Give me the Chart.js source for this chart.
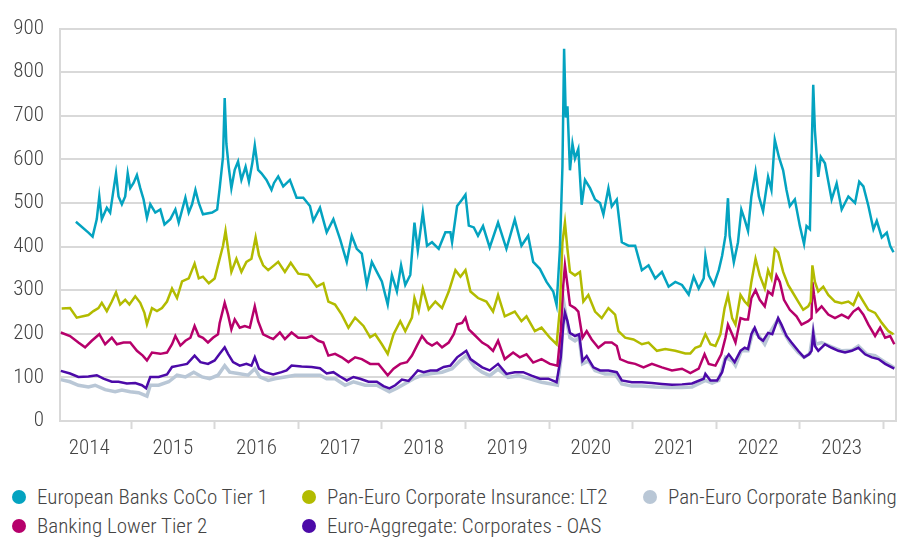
<!DOCTYPE html>
<html>
<head>
<meta charset="utf-8">
<script src="https://cdn.jsdelivr.net/npm/chart.js@4.4.1/dist/chart.umd.min.js"></script>
<style>
  html, body { margin: 0; padding: 0; background: #fff; }
  body { width: 898px; height: 537px; position: relative; overflow: hidden;
         font-family: "Roboto Condensed", Roboto, sans-serif; }
  #wrap { position: absolute; left: 0; top: 0; width: 898px; height: 470px; }
  #legend { position: absolute; left: 12px; top: 484px; display: grid;
            grid-template-columns: 290px 341px auto; row-gap: 3px; }
  .item { display: flex; align-items: center; height: 26px; font-size: 21px; font-weight: 300;
          color: #444; white-space: nowrap; }
  .dot { width: 14px; height: 14px; border-radius: 50%; margin-right: 11px; flex: none; }
</style>
</head>
<body>
<div id="wrap"><canvas id="chart"></canvas></div>
<div id="legend"></div>
<script>
// --- data (decimal years, spread in bp) ---
const cocoDates = [2014.34,2014.49,2014.54,2014.59,2014.62,2014.65,2014.71,2014.75,2014.79,2014.82,2014.85,2014.89,2014.93,2014.96,2014.99,
  2015.03,2015.07,2015.11,2015.15,2015.19,2015.23,2015.29,2015.35,2015.40,2015.47,2015.53,2015.57,2015.65,2015.69,2015.73,2015.77,2015.81,2015.86,2015.97,
  2016.03,2016.06,2016.10,2016.12,2016.14,2016.17,2016.20,2016.24,2016.28,2016.32,2016.37,2016.41,2016.45,2016.48,2016.52,2016.56,2016.62,2016.68,2016.71,2016.76,2016.82,2016.90,2016.98,
  2017.06,2017.14,2017.18,2017.26,2017.34,2017.42,2017.50,2017.58,2017.64,2017.70,2017.76,2017.82,2017.88,2017.94,
  2018.00,2018.07,2018.12,2018.18,2018.23,2018.28,2018.34,2018.39,2018.43,2018.49,2018.54,2018.60,2018.68,2018.76,2018.82,2018.84,2018.90,2018.96,
  2019.00,2019.04,2019.10,2019.15,2019.21,2019.29,2019.39,2019.49,2019.59,2019.67,2019.75,2019.81,2019.89,2019.97,
  2020.05,2020.09,2020.13,2020.16,2020.18,2020.20,2020.22,2020.25,2020.28,2020.31,2020.35,2020.39,2020.43,2020.49,2020.55,2020.61,2020.65,2020.71,2020.75,2020.81,2020.87,2020.95,
  2021.03,2021.11,2021.19,2021.27,2021.35,2021.43,2021.51,2021.59,2021.67,2021.73,2021.79,2021.85,2021.87,2021.91,2021.97,
  2022.03,2022.07,2022.11,2022.14,2022.16,2022.21,2022.26,2022.30,2022.34,2022.38,2022.42,2022.47,2022.51,2022.56,2022.62,2022.66,2022.70,2022.75,2022.80,2022.84,2022.88,2022.94,
  2023.00,2023.05,2023.08,2023.12,2023.14,2023.16,2023.18,2023.22,2023.25,2023.30,2023.38,2023.44,2023.50,2023.58,2023.66,2023.71,2023.76,2023.82,2023.88,2023.92,2023.98,
  2024.04,2024.08,2024.12];
const cocoValues = [457,432,423,463,515,463,489,478,530,568,515,497,515,568,534,
  546,564,534,508,466,497,478,485,451,463,485,455,512,478,497,530,500,474,478,
  485,534,606,741,636,580,534,576,595,553,583,549,591,632,576,568,553,530,546,561,538,553,512,
  512,493,459,489,433,463,417,365,425,395,384,312,365,342,
  320,267,335,297,357,312,335,455,391,478,402,410,395,433,433,410,493,508,
  519,448,444,425,447,398,455,395,462,402,425,365,349,319,
  297,266,395,583,854,696,722,575,636,602,624,496,553,534,508,500,474,534,492,508,410,402,
  402,346,357,327,342,308,319,312,290,331,304,327,379,334,312,
  346,379,425,511,425,364,410,485,462,436,515,572,515,481,560,530,645,605,575,530,493,508,
  447,406,447,440,613,771,666,560,606,591,508,545,485,515,500,549,538,493,440,459,421,
  432,402,387];

const lt2Dates = [2014.17,2014.27,2014.35,2014.49,2014.55,2014.61,2014.65,2014.71,2014.77,2014.82,2014.87,2014.93,2014.98,
  2015.05,2015.11,2015.16,2015.19,2015.25,2015.31,2015.37,2015.43,2015.49,2015.55,2015.61,2015.69,2015.76,2015.81,2015.86,2015.93,
  2016.00,2016.06,2016.10,2016.13,2016.16,2016.20,2016.26,2016.32,2016.38,2016.44,2016.49,2016.53,2016.58,2016.64,2016.71,2016.76,2016.84,2016.91,
  2017.00,2017.12,2017.22,2017.30,2017.36,2017.44,2017.52,2017.60,2017.68,2017.78,2017.86,2017.92,
  2018.00,2018.07,2018.14,2018.22,2018.28,2018.36,2018.39,2018.44,2018.49,2018.56,2018.64,2018.72,2018.80,2018.88,2018.94,
  2019.00,2019.06,2019.15,2019.25,2019.33,2019.39,2019.47,2019.59,2019.67,2019.73,2019.83,2019.91,
  2020.01,2020.09,2020.13,2020.16,2020.19,2020.22,2020.25,2020.31,2020.37,2020.41,2020.47,2020.55,2020.63,2020.71,2020.79,2020.83,2020.91,
  2021.01,2021.11,2021.19,2021.29,2021.39,2021.51,2021.63,2021.69,2021.75,2021.81,2021.87,2021.93,2021.99,
  2022.05,2022.10,2022.14,2022.19,2022.23,2022.29,2022.34,2022.38,2022.42,2022.47,2022.52,2022.58,2022.62,2022.66,2022.70,2022.74,2022.80,2022.86,2022.92,2022.98,
  2023.04,2023.10,2023.13,2023.15,2023.18,2023.22,2023.28,2023.34,2023.42,2023.50,2023.58,2023.64,2023.70,2023.76,2023.82,2023.90,2023.98,
  2024.06,2024.12];
const lt2Values = [258,259,237,243,252,259,271,252,274,295,267,278,267,
  286,271,248,222,259,252,259,274,304,282,320,327,361,327,331,316,
  327,372,402,436,395,342,372,342,365,372,421,380,357,346,357,365,342,363,
  338,335,308,316,274,267,244,214,237,218,192,199,
  176,154,199,229,206,237,282,252,304,256,274,259,297,346,331,
  346,297,282,274,251,289,240,251,229,240,206,214,
  191,176,259,410,455,394,342,334,342,274,289,251,236,259,244,206,191,
  187,176,180,161,165,161,155,155,168,172,199,176,172,
  199,259,289,236,221,289,274,266,319,372,334,304,346,327,395,387,342,312,293,274,
  255,263,274,357,319,297,308,289,274,270,274,266,293,274,255,248,225,
  206,199];

const bankingDates = [2014.16,2014.27,2014.37,2014.49,2014.57,2014.69,2014.81,2014.89,2014.99,
  2015.09,2015.19,2015.23,2015.33,2015.45,2015.55,2015.65,2015.75,2015.85,2015.94,
  2016.04,2016.12,2016.18,2016.28,2016.40,2016.48,2016.54,2016.64,2016.72,2016.84,2016.96,
  2017.12,2017.26,2017.34,2017.44,2017.56,2017.66,2017.80,2017.94,
  2018.09,2018.18,2018.28,2018.38,2018.48,2018.60,2018.72,2018.84,2018.94,
  2019.01,2019.11,2019.20,2019.29,2019.39,2019.51,2019.63,2019.77,2019.91,
  2020.03,2020.10,2020.14,2020.18,2020.22,2020.25,2020.31,2020.36,2020.40,2020.47,2020.55,2020.67,2020.79,2020.87,2020.99,
  2021.11,2021.27,2021.43,2021.59,2021.71,2021.87,2021.95,
  2022.03,2022.11,2022.19,2022.23,2022.30,2022.38,2022.44,2022.51,2022.58,2022.64,2022.74,2022.80,2022.88,2022.98,
  2023.05,2023.12,2023.16,2023.19,2023.26,2023.38,2023.50,2023.62,2023.70,2023.80,2023.90,
  2024.02,2024.13];
const bankingValues = [95,90,82,78,82,72,67,71,67,
  65,57,82,82,90,105,101,112,101,97,
  105,127,112,109,105,120,101,93,97,101,105,
  105,105,97,97,82,90,82,82,
  67,75,86,97,105,109,112,120,139,
  150,124,112,104,119,100,104,97,89,
  85,82,138,267,221,191,184,191,131,138,116,108,108,85,80,
  80,78,77,77,78,93,87,
  93,146,138,127,161,161,206,195,176,202,233,206,180,157,
  146,155,206,176,180,170,161,162,172,153,150,
  135,122];

const lowerT2Dates = [2014.16,2014.27,2014.37,2014.45,2014.53,2014.62,2014.69,2014.77,2014.83,2014.91,2014.99,
  2015.07,2015.14,2015.19,2015.25,2015.35,2015.43,2015.49,2015.53,2015.59,2015.65,2015.71,2015.76,2015.81,2015.86,2015.92,2015.98,
  2016.04,2016.06,2016.12,2016.16,2016.20,2016.24,2016.30,2016.36,2016.42,2016.48,2016.52,2016.58,2016.66,2016.70,2016.78,2016.84,2016.92,
  2017.00,2017.10,2017.16,2017.24,2017.30,2017.36,2017.44,2017.52,2017.60,2017.68,2017.76,2017.86,2017.96,
  2018.07,2018.14,2018.22,2018.30,2018.36,2018.42,2018.48,2018.54,2018.60,2018.66,2018.72,2018.80,2018.86,2018.90,2018.96,
  2019.00,2019.04,2019.10,2019.20,2019.27,2019.33,2019.39,2019.47,2019.57,2019.65,2019.73,2019.81,2019.91,
  2020.01,2020.10,2020.14,2020.17,2020.19,2020.22,2020.25,2020.31,2020.35,2020.40,2020.45,2020.51,2020.59,2020.67,2020.75,2020.81,2020.85,2020.95,
  2021.03,2021.13,2021.23,2021.35,2021.47,2021.59,2021.69,2021.79,2021.86,2021.91,2021.99,
  2022.06,2022.11,2022.14,2022.19,2022.23,2022.29,2022.34,2022.38,2022.42,2022.47,2022.52,2022.58,2022.62,2022.67,2022.72,2022.76,2022.81,2022.88,2022.96,
  2023.02,2023.10,2023.14,2023.15,2023.17,2023.20,2023.26,2023.34,2023.42,2023.50,2023.58,2023.64,2023.70,2023.76,2023.82,2023.90,2023.96,
  2024.02,2024.08,2024.13];
const lowerT2Values = [203,195,180,169,184,199,176,191,176,180,180,
  161,150,139,157,154,157,176,195,173,184,191,218,195,191,180,191,
  199,225,271,244,210,233,214,218,214,263,229,199,191,188,203,188,203,
  191,191,195,184,180,150,154,146,135,146,142,131,131,
  105,120,131,135,150,173,195,180,173,180,169,180,199,222,225,
  237,210,199,180,172,161,184,142,157,146,153,134,142,
  131,127,206,312,357,312,266,259,251,191,206,187,168,180,180,172,142,134,
  131,123,131,123,116,120,110,120,153,131,127,
  153,191,221,199,180,236,233,233,282,300,278,263,297,289,334,319,278,255,240,
  221,229,236,319,289,251,263,244,236,244,236,251,259,244,221,195,214,
  191,195,176];

const euroAggDates = [2014.16,2014.27,2014.37,2014.49,2014.59,2014.67,2014.77,2014.85,2014.95,
  2015.05,2015.13,2015.18,2015.23,2015.33,2015.43,2015.49,2015.57,2015.67,2015.76,2015.83,2015.92,
  2016.00,2016.06,2016.12,2016.16,2016.22,2016.30,2016.38,2016.44,2016.48,2016.53,2016.60,2016.70,2016.80,2016.86,2016.92,
  2017.04,2017.16,2017.26,2017.34,2017.42,2017.50,2017.58,2017.66,2017.74,2017.84,2017.94,
  2018.02,2018.09,2018.16,2018.24,2018.32,2018.38,2018.43,2018.50,2018.58,2018.66,2018.74,2018.82,2018.90,2018.96,
  2019.01,2019.06,2019.14,2019.20,2019.29,2019.39,2019.49,2019.59,2019.69,2019.79,2019.89,2019.99,
  2020.09,2020.14,2020.17,2020.19,2020.22,2020.25,2020.31,2020.36,2020.40,2020.45,2020.53,2020.61,2020.71,2020.81,2020.87,2020.99,
  2021.11,2021.23,2021.35,2021.47,2021.59,2021.71,2021.85,2021.87,2021.93,
  2022.01,2022.07,2022.11,2022.15,2022.22,2022.29,2022.34,2022.38,2022.42,2022.46,2022.51,2022.56,2022.62,2022.67,2022.74,2022.78,2022.84,2022.90,2022.98,
  2023.05,2023.11,2023.14,2023.16,2023.18,2023.22,2023.30,2023.38,2023.46,2023.54,2023.62,2023.70,2023.78,2023.86,2023.94,
  2024.02,2024.13];
const euroAggValues = [115,109,101,102,105,97,90,90,86,
  87,82,75,101,101,107,124,127,131,150,135,131,
  139,154,169,154,135,127,131,127,146,120,112,107,112,116,127,
  125,124,121,109,112,102,93,101,97,90,90,
  80,75,82,95,92,105,116,112,116,116,124,127,146,154,
  161,142,131,123,116,131,108,112,112,104,97,97,
  89,146,221,248,229,202,195,199,138,149,123,116,116,112,93,89,
  89,87,85,83,84,86,97,108,93,
  93,112,142,153,135,161,168,165,199,214,191,184,202,199,236,221,195,180,161,
  146,153,161,202,172,161,176,168,161,157,161,168,153,146,142,
  131,120];

const seriesNames = ["European Banks CoCo Tier 1", "Pan-Euro Corporate Insurance: LT2", "Pan-Euro Corporate Banking",
  "Banking Lower Tier 2", "Euro-Aggregate: Corporates - OAS"];
const seriesColors = ["#04a3c0", "#b2bb00", "#b9c7d6", "#b6006b", "#4c0aa8"];

const yTicks = [0, 100, 200, 300, 400, 500, 600, 700, 800, 900];
const yearLabels = [2014, 2015, 2016, 2017, 2018, 2019, 2020, 2021, 2022, 2023];
const X_MIN = 2014.15, X_MAX = 2024.15;

// --- helpers ---
const FONT = '"Roboto Condensed", Roboto, sans-serif';
const GRID = "#d9d9d9";

function toPoints(dates, values) {
  return dates.map((d, i) => ({ x: d, y: values[i] }));
}

// boundary ticks (marks only) + mid-year ticks (labels only)
const xTicks = [];
yearLabels.forEach((y) => {
  xTicks.push(y + 0.5);
  if (y + 1 < X_MAX) xTicks.push(y + 1);
});

const frame = {
  id: "frame",
  beforeDatasetsDraw(chart) {
    const { ctx, chartArea: a } = chart;
    ctx.save();
    ctx.strokeStyle = GRID;
    ctx.lineWidth = 2;
    ctx.beginPath();
    ctx.moveTo(a.right, a.top);
    ctx.lineTo(a.right, a.bottom);
    ctx.stroke();
    ctx.restore();
  },
};

const allDates = [cocoDates, lt2Dates, bankingDates, lowerT2Dates, euroAggDates];
const allValues = [cocoValues, lt2Values, bankingValues, lowerT2Values, euroAggValues];
const drawOrder = [1, 2, 5, 3, 4]; // higher = drawn further back
const widths = [2.5, 2.5, 3.5, 2.5, 2.5];

const datasets = seriesNames.map((name, i) => ({
  label: name,
  data: toPoints(allDates[i], allValues[i]),
  borderColor: seriesColors[i],
  backgroundColor: seriesColors[i],
  borderWidth: widths[i],
  pointRadius: 0,
  tension: 0,
  order: drawOrder[i],
}));

const tickFont = { family: FONT, size: 21, weight: 300 };

new Chart(document.getElementById("chart"), {
  type: "line",
  data: { datasets },
  plugins: [frame],
  options: {
    responsive: true,
    maintainAspectRatio: false,
    animation: false,
    layout: { padding: { top: 23, right: 2, left: 0, bottom: 0 } },
    plugins: { legend: { display: false }, tooltip: { enabled: false } },
    scales: {
      x: {
        type: "linear",
        min: X_MIN,
        max: X_MAX,
        afterBuildTicks: (axis) => { axis.ticks = xTicks.map((v) => ({ value: v })); },
        afterFit: (scale) => { scale.height = 49; },
        ticks: {
          autoSkip: false,
          maxRotation: 0,
          padding: 7,
          color: "#444",
          font: tickFont,
          callback: (v) => (Number.isInteger(v) ? "" : String(Math.floor(v))),
        },
        grid: {
          drawOnChartArea: false,
          drawTicks: true,
          tickLength: 8,
          tickWidth: 2,
          tickColor: (c) => (c.tick && Number.isInteger(c.tick.value) ? GRID : "rgba(0,0,0,0)"),
        },
        border: { display: true, color: GRID, width: 2 },
      },
      y: {
        min: 0,
        max: 900,
        afterBuildTicks: (axis) => { axis.ticks = yTicks.map((v) => ({ value: v })); },
        afterFit: (scale) => { scale.width = 60; },
        ticks: {
          padding: 16,
          color: "#444",
          font: tickFont,
        },
        grid: { color: GRID, lineWidth: 2, drawTicks: false },
        border: { display: true, color: GRID, width: 2 },
      },
    },
  },
});

// --- html legend, three columns like the source ---
const legendEl = document.getElementById("legend");
seriesNames.forEach((name, i) => {
  const item = document.createElement("div");
  item.className = "item";
  const dot = document.createElement("span");
  dot.className = "dot";
  dot.style.background = seriesColors[i];
  const txt = document.createElement("span");
  txt.textContent = name;
  item.appendChild(dot);
  item.appendChild(txt);
  legendEl.appendChild(item);
});
</script>
</body>
</html>
